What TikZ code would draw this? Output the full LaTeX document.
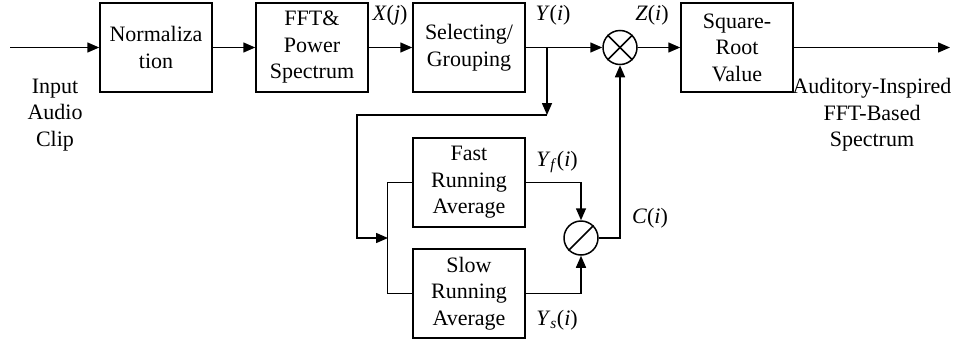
\documentclass[tikz,border=0pt]{standalone}
\usepackage{fontspec}
\setmainfont{Liberation Serif}
\usetikzlibrary{arrows.meta}

\tikzset{
    blockbox/.style={draw,line width=1.5pt,minimum width=112pt,minimum height=89pt,inner sep=0pt,align=center},
    opcircle/.style={draw,circle,line width=1.5pt,minimum size=34pt,inner sep=0pt},
    sig/.style={inner sep=0pt},
}

\begin{document}
\begin{tikzpicture}[x=1pt,y=-1pt,line width=1.5pt,>={Triangle[length=12pt,width=10pt]},
    every node/.style={font=\fontsize{22}{26.5}\selectfont}]
    %\draw[help lines] (0,0) grid[step=50] (955,343);
    \useasboundingbox (0,0) rectangle (955,343);
    % upper row
    \node[blockbox] (norm) at (156,47.5) {Normaliza\\tion};
    \node[blockbox] (fft) at (312,47.5) {FFT\&\\Power\\Spectrum};
    \node[blockbox] (sel) at (469,47.5) {Selecting/\\Grouping};
    \node[opcircle] (mul) at (620,47.5) {};
    \node[blockbox] (sqr) at (737,47.5) {Square-\\Root\\Value};
    % lower row
    \node[blockbox] (fast) at (469,182.5) {Fast\\Running\\Average};
    \node[blockbox] (slow) at (469,293.5) {Slow\\Running\\Average};
    \node[opcircle] (div) at (581,238) {};
    \draw (mul.north west) -- (mul.south east);
    \draw (mul.north east) -- (mul.south west);
    \draw (div.south west) -- (div.north east);
    % end points
    \coordinate (in) at (10,47.5);
    \coordinate (out) at (950,47.5);
    \coordinate (split) at (547,47.5);
    \coordinate (turn) at (547,115);
    \coordinate (back) at (357,115);
    \coordinate (join) at (388,238);
    % texts
    \node[align=center] (inlab) at (55,115) {Input\\Audio\\Clip};
    \node[align=center] (outlab) at (872,115) {Auditory-Inspired\\FFT-Based\\Spectrum};
    \node[sig] (xl) at (390,15) {\textit{X}(\textit{j})};
    \node[sig] (yl) at (553,15) {\textit{Y}(\textit{i})};
    \node[sig] (zl) at (652,15) {\textit{Z}(\textit{i})};
    \node[sig] (cl) at (650,218) {\textit{C}(\textit{i})};
    \node[sig] (yfl) at (557,162) {\textit{Y}\textsubscript{\textit{f}}(\textit{i})};
    \node[sig] (ysl) at (557,320) {\textit{Y}\textsubscript{\textit{s}}(\textit{i})};
    % connections
    \draw[->] (in) -- (norm);
    \draw[->] (norm) -- (fft);
    \draw[->] (fft) -- (sel);
    \draw[->] (sel) -- (mul);
    \draw[->] (mul) -- (sqr);
    \draw[->] (sqr) -- (out);
    \draw[->] (split) -- (turn);
    \draw[->] (turn) -- (back) |- (join);
    \draw (fast.west) -- ++(-25,0) |- (slow.west);
    \draw[->] (fast.east) -| (div.north);
    \draw[->] (slow.east) -| (div.south);
    \draw[->] (div.east) -| (mul.south);
\end{tikzpicture}
\end{document}
